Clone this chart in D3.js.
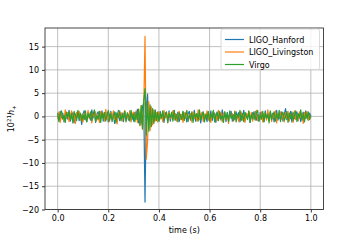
<!DOCTYPE html>
<html><head><meta charset="utf-8">
<script src="https://cdn.jsdelivr.net/npm/d3@7"></script>
<style>body{margin:0;background:#fff}svg{display:block;font-family:"DejaVu Sans",sans-serif}</style>
</head><body><svg id="c" width="360" height="240"></svg>
<script>
const seriesNames = ["LIGO_Hanford","LIGO_Livingston","Virgo"];
const colors = ["#1f77b4","#ff7f0e","#2ca02c"];
const dt = 0.005;
const hanford = [0.4,-0.8,1.1,-0.3,0.7,-1.2,0.2,0.9,-0.6,1.3,-1.0,0.1,0.8,-1.4,0.5,-0.2,1.0,-0.9,0.3,-1.7,
0.6,1.2,-0.5,-1.1,0.9,0.2,-0.8,1.4,-0.3,0.7,-1.3,0.4,1.0,-0.7,-0.1,1.2,-1.0,0.5,-0.6,0.9,
-1.2,0.3,1.1,-0.4,0.6,-1.5,0.8,-0.2,1.3,-0.9,0.1,0.7,-1.1,1.0,-0.5,0.4,-0.8,1.2,-0.3,0.6,
-1.0,0.9,-0.6,1.5,-1.4,0.8,-1.6,2.0,3.0,-18.4,2.2,4.8,-2.6,1.8,-1.5,0.9,-1.2,1.4,-0.4,0.7,
-0.9,1.1,-0.2,0.6,-1.3,0.8,0.3,-0.7,1.2,-1.0,0.5,-0.4,1.3,-0.8,0.2,0.9,-1.1,0.4,-0.6,1.0,
-0.3,0.7,-1.2,0.5,1.1,-0.8,0.2,-0.5,1.3,-1.0,0.6,-0.2,0.9,-1.4,0.4,1.0,-0.7,0.3,-1.1,0.8,
-0.5,1.2,-0.9,0.1,0.7,-1.3,1.0,-0.4,0.6,-0.8,1.4,-0.2,0.5,-1.1,0.9,-0.6,0.3,1.1,-1.0,0.4,
-0.7,1.0,-0.3,0.8,-1.2,0.5,-0.1,1.3,-0.9,0.6,-0.4,1.0,-1.3,0.2,0.8,-0.6,1.1,-0.8,0.4,-1.0,
0.9,-0.2,0.6,-1.1,1.2,-0.5,0.3,-0.9,1.0,-0.4,0.7,-1.2,0.5,1.3,-0.8,0.1,-0.6,1.0,-1.0,0.4,
1.7,-0.7,0.5,-0.3,1.1,-1.2,0.8,-0.5,0.2,1.0,-0.9,0.6,-1.1,0.4,0.9,-0.6,1.2,-0.3,-0.8,0.7,0.1];
const livingston = [-0.6,1.0,-1.3,0.5,0.2,-0.9,1.4,-0.4,0.8,-1.1,0.3,1.2,-0.7,0.6,-1.5,0.9,-0.2,1.1,-0.8,0.4,
-1.2,0.7,0.3,-1.0,1.3,-0.5,0.9,-1.4,0.6,-0.1,1.0,-0.8,0.4,-1.3,1.1,-0.3,0.7,-1.0,1.5,-0.6,
0.2,-1.1,0.9,-0.4,1.2,-0.7,0.3,-1.6,1.0,-0.2,0.8,-1.0,0.5,1.3,-0.9,0.1,-0.5,1.1,-1.2,0.6,
0.9,-0.8,1.2,-1.3,1.6,-2.0,2.4,-2.8,1.5,17.2,-9.2,-5.5,3.2,-3.0,2.1,-1.8,1.4,-1.0,0.8,-1.2,
1.0,-0.6,0.4,-1.1,1.3,-0.3,0.7,-1.4,0.9,-0.5,0.2,1.2,-0.8,0.6,-1.0,0.3,1.1,-0.7,0.5,-1.3,
0.8,-0.4,1.3,-0.9,0.1,0.6,-1.2,1.0,-0.5,0.4,-1.0,1.4,-0.7,0.3,0.9,-1.1,0.5,-0.3,1.2,-0.8,
0.4,-1.3,0.7,1.1,-0.6,0.2,-0.9,1.3,-0.4,0.8,-1.2,0.5,1.0,-0.7,0.3,-1.5,0.9,-0.2,0.6,-1.0,
1.2,-0.5,0.3,-1.1,0.8,1.0,-0.8,0.4,-1.3,0.7,-0.2,1.1,-0.6,0.9,-1.0,0.5,-0.4,1.3,-0.9,0.2,
-0.7,1.0,-1.2,0.6,0.3,-0.8,1.4,-0.5,0.9,-1.1,0.4,-0.3,1.2,-1.4,0.7,-0.1,1.0,-0.6,0.5,-1.2,
0.8,-0.4,1.1,-1.0,0.3,0.6,-1.3,1.2,-0.7,0.4,-0.9,1.0,-0.2,0.7,-1.5,0.9,-0.5,1.1,-0.8,0.3,-0.4];
const virgo = [0.8,-1.1,0.5,1.2,-0.6,0.3,-1.3,0.9,-0.2,1.0,-0.8,0.6,-1.4,1.1,0.2,-0.9,1.3,-0.5,0.7,-1.0,
0.4,-0.7,1.2,-1.2,0.6,-0.3,1.0,-0.9,0.5,1.4,-1.1,0.2,-0.6,1.1,-1.3,0.8,-0.4,0.9,-1.0,0.3,
1.3,-0.8,0.6,-1.1,0.1,1.0,-1.4,0.7,-0.3,1.2,-0.9,0.4,-0.5,1.1,-1.2,0.8,0.2,-1.0,1.3,-0.6,
0.5,-1.2,1.0,-0.7,1.5,-1.9,2.3,-2.6,3.4,6.0,-4.0,2.9,-3.2,2.5,-2.2,1.7,-1.5,1.2,-0.9,1.0,
-1.1,0.7,-0.4,1.2,-0.8,0.3,1.0,-1.3,0.6,-0.2,0.9,-1.0,1.3,-0.6,0.4,-1.2,0.8,0.1,-0.7,1.1,
-0.9,0.5,1.2,-1.1,0.3,-0.5,1.0,-1.3,0.8,-0.2,0.6,-1.0,1.4,-0.7,0.2,0.9,-1.2,0.5,-0.4,1.1,
-1.0,0.6,-0.3,1.3,-1.2,0.4,0.8,-0.9,1.1,-0.5,0.2,-1.3,1.0,-0.6,0.7,-1.1,1.2,-0.4,0.3,-0.8,
1.0,-1.2,0.5,-0.2,1.3,-0.9,0.6,-1.1,0.9,0.1,-0.7,1.2,-1.3,0.4,-0.5,1.0,-0.8,0.7,1.3,-1.0,
0.3,-0.6,1.1,-1.2,0.8,-0.3,0.5,-1.4,1.2,-0.7,0.2,1.0,-1.0,0.6,-0.4,1.3,-1.1,0.4,0.9,-0.8,
-0.2,1.1,-1.3,0.7,-0.5,1.0,-0.9,0.3,1.2,-1.1,0.6,-0.3,1.4,-0.8,0.5,-1.2,0.9,-0.4,1.0,-0.7,0.2];
const xTicks = [0,0.2,0.4,0.6,0.8,1.0];
const yTicks = [-20,-15,-10,-5,0,5,10,15];

const svg = d3.select("#c");
const L=45,R=323.5,T=28,B=209.5;
const x = d3.scaleLinear().domain([-0.05,1.05]).range([L,R]);
const y = d3.scaleLinear().domain([-20,19]).range([B,T]);

const g = svg.append("g");
// grid
g.selectAll(".gx").data(xTicks).enter().append("line")
 .attr("x1",d=>x(d)).attr("x2",d=>x(d)).attr("y1",T).attr("y2",B)
 .attr("stroke","#b0b0b0").attr("stroke-width",0.8);
g.selectAll(".gy").data(yTicks).enter().append("line")
 .attr("y1",d=>y(d)).attr("y2",d=>y(d)).attr("x1",L).attr("x2",R)
 .attr("stroke","#b0b0b0").attr("stroke-width",0.8);

const all = [hanford,livingston,virgo];
const line = d3.line().x((d,i)=>x(i*dt)).y(d=>y(d));
svg.append("defs").append("clipPath").attr("id","cp").append("rect")
 .attr("x",L).attr("y",T).attr("width",R-L).attr("height",B-T);
all.forEach((s,k)=>{
  svg.append("path").datum(s).attr("d",line).attr("fill","none")
   .attr("stroke",colors[k]).attr("stroke-width",1.2).attr("stroke-linejoin","round")
   .attr("clip-path","url(#cp)");
});

// axes
const xa = svg.append("g").attr("transform",`translate(0,${B})`)
 .call(d3.axisBottom(x).tickValues(xTicks).tickFormat(d3.format(".1f")).tickSize(3).tickPadding(3));
const ya = svg.append("g").attr("transform",`translate(${L},0)`)
 .call(d3.axisLeft(y).tickValues(yTicks).tickFormat(d=>d<0?"\u2212"+Math.abs(d):d).tickSize(3).tickPadding(3));
[xa,ya].forEach(a=>{
  a.select(".domain").remove();
  a.selectAll("text").attr("font-size",8).attr("fill","#000").attr("font-family","DejaVu Sans");
  a.selectAll("line").attr("stroke","#000").attr("stroke-width",0.8);
});
// spines
svg.append("rect").attr("x",L).attr("y",T).attr("width",R-L).attr("height",B-T)
 .attr("fill","none").attr("stroke","#333").attr("stroke-width",0.9);

// labels
svg.append("text").attr("x",(L+R)/2).attr("y",233).attr("text-anchor","middle")
 .attr("font-size",8).text("time (s)");
const yl = svg.append("text").attr("transform",`translate(14,${(T+B)/2}) rotate(-90)`)
 .attr("text-anchor","middle").attr("font-size",8);
yl.append("tspan").text("10");
yl.append("tspan").attr("dy",-3).attr("font-size",5.6).text("21");
yl.append("tspan").attr("dy",3).attr("font-style","italic").text("h");
yl.append("tspan").attr("dy",1.5).attr("font-size",5.6).text("+");

// legend
const lg = svg.append("g");
lg.append("rect").attr("x",221).attr("y",29).attr("width",98.5).attr("height",40.5).attr("rx",2)
 .attr("fill","#fff").attr("fill-opacity",0.8).attr("stroke","#d0d0d0").attr("stroke-width",0.8);
seriesNames.forEach((n,k)=>{
  const yy = 39.5+k*12.5;
  lg.append("line").attr("x1",225).attr("x2",244).attr("y1",yy).attr("y2",yy)
   .attr("stroke",colors[k]).attr("stroke-width",1.2);
  lg.append("text").attr("x",249).attr("y",yy+3).attr("font-size",8).text(n);
});
</script></body></html>
